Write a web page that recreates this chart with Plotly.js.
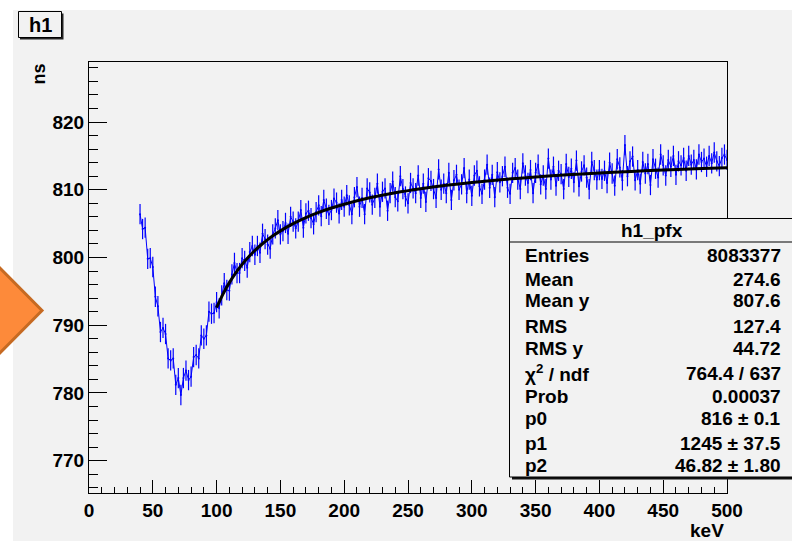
<!DOCTYPE html>
<html>
<head>
<meta charset="utf-8">
<script src="https://cdn.plot.ly/plotly-3.0.1.min.js"></script>
<style>
html,body{margin:0;padding:0;background:#ffffff;}
#plot{width:792px;height:543px;}
</style>
</head>
<body>
<div id="plot"></div>
<script>
// ---------------- data ----------------
const binStart = 40;   // keV, first filled bin shown
const binStep = 2;     // keV
const profileMean = [
 806.4,804.2,804.4,799.8,799.9,798.6,794.2,792.8,789.0,789.6,
 788.7,785.1,784.8,785.1,781.2,782.2,779.7,782.2,783.3,781.9,
 782.4,785.3,785.6,785.1,788.5,788.0,788.5,792.0,791.7,791.8,
 793.4,792.5,794.4,796.2,795.2,795.1,797.5,799.2,797.7,797.7,
 799.9,799.5,798.5,800.8,801.7,800.4,801.7,800.7,803.5,802.7,
 801.9,801.3,803.4,804.3,805.5,803.4,803.9,805.1,803.5,806.0,
 805.3,804.3,805.3,807.0,804.4,806.5,806.9,805.8,804.9,806.7,
 807.7,806.1,808.5,807.2,806.3,807.0,808.7,808.1,806.5,808.5,
 807.5,809.2,807.7,806.4,808.9,810.4,807.5,808.8,806.4,810.2,
 809.6,807.8,808.8,810.9,807.5,809.7,810.2,806.9,809.5,811.2,
 808.9,808.3,812.0,810.1,809.0,808.0,811.0,810.2,809.5,812.1,
 808.8,810.9,808.2,811.7,811.3,810.1,808.8,813.0,810.0,810.9,
 809.5,812.5,808.5,811.4,812.2,810.0,810.8,813.2,809.5,811.5,
 809.1,812.1,812.8,810.5,809.4,811.5,813.7,810.3,812.2,808.9,
 812.6,811.1,812.0,813.4,810.3,809.4,812.5,813.2,811.5,810.1,
 813.9,812.1,811.0,812.9,809.5,812.5,813.7,810.8,812.1,810.1,
 814.6,811.5,813.4,810.6,812.8,812.3,810.1,813.8,811.9,813.1,
 811.1,814.3,810.5,812.7,813.6,811.8,810.1,814.1,812.9,811.5,
 812.9,811.6,812.8,811.0,814.0,812.4,810.6,814.5,813.3,811.4,
 816.6,812.0,814.2,814.9,811.4,812.9,810.9,814.1,812.4,813.8,
 810.7,814.5,813.1,811.8,815.2,813.6,812.1,814.4,813.4,815.0,
 812.2,814.2,813.6,814.7,812.8,815.0,813.7,814.4,813.0,815.2,
 814.1,814.6,813.4,815.0,813.9,815.5,814.2,813.5,814.7,815.2,
 814.4
];
const profileErr = 1.5;

const fitX = [100,105,110,115,120,125,130,135,140,145,150,160,170,180,190,200,220,240,260,280,300,325,350,375,400,425,450,475,500];
const fitY = [792.59,794.60,796.29,797.74,798.99,800.08,801.03,801.88,802.64,803.32,803.93,805.00,805.89,806.65,807.30,807.87,808.81,809.56,810.16,810.66,811.08,811.52,811.89,812.21,812.47,812.71,812.91,813.09,813.25];

const histTitle = 'h1';
const statsTitle = 'h1_pfx';
const statLabels = ['Entries','Mean','Mean y','RMS','RMS y','χ<sup>2</sup> / ndf','Prob','p0','p1','p2'];
const statValues = ['8083377','274.6','807.6','127.4','44.72','764.4 / 637','0.00037','816 ± 0.1','1245 ± 37.5','46.82 ± 1.80'];

const xTitle = 'keV';
const yTitle = 'ns';

// ---------------- build ----------------
const profileX = profileMean.map((_, i) => binStart + i * binStep);

const L = 89, T = 62, W = 638, H = 431;
const px = v => (v - L) / W;
const py = v => (T + H - v) / H;

const FONT = 'Liberation Sans, Arial, Helvetica, sans-serif';
const GRAY = '#f2f2f2';

const traces = [
  {
    x: profileX, y: profileMean, type: 'scatter', mode: 'lines+markers',
    line: {color: '#0000ff', width: 1},
    marker: {color: '#0000ff', size: 2},
    error_y: {type: 'constant', value: profileErr, color: '#0000ff', thickness: 1.2, width: 0},
    hoverinfo: 'x+y', showlegend: false
  },
  {
    x: fitX, y: fitY, type: 'scatter', mode: 'lines',
    line: {color: '#000000', width: 3, shape: 'spline'},
    showlegend: false
  }
];

const shapes = [
  // canvas gray
  {type: 'rect', xref: 'paper', yref: 'paper', x0: px(13), x1: px(800), y0: py(10), y1: py(541),
   fillcolor: GRAY, line: {width: 0}, layer: 'below'},
  // title box shadow + box
  {type: 'rect', xref: 'paper', yref: 'paper', x0: px(20), x1: px(63.5), y0: py(13.5), y1: py(39.5),
   fillcolor: '#222222', line: {width: 0}},
  {type: 'rect', xref: 'paper', yref: 'paper', x0: px(18.5), x1: px(61.5), y0: py(11.5), y1: py(37.5),
   fillcolor: GRAY, line: {color: '#000000', width: 1}},
  // stats box shadow + box
  {type: 'rect', xref: 'paper', yref: 'paper', x0: px(512), x1: px(800), y0: py(221), y1: py(479.5),
   fillcolor: '#111111', line: {width: 0}},
  {type: 'rect', xref: 'paper', yref: 'paper', x0: px(509.5), x1: px(800), y0: py(218.5), y1: py(477),
   fillcolor: GRAY, line: {color: '#000000', width: 1}},
  {type: 'line', xref: 'paper', yref: 'paper', x0: px(509.5), x1: px(800), y0: py(242), y1: py(242),
   line: {color: '#000000', width: 1}},
  // orange arrow
  {type: 'path', xref: 'paper', yref: 'paper',
   path: `M ${px(-30)},${py(238)} L ${px(42)},${py(310.5)} L ${px(-30)},${py(383)} Z`,
   fillcolor: '#fd8a3a', line: {color: '#c66a22', width: 3}}
];

const rowY = [255, 279, 300, 326.5, 348, 373, 396.5, 418, 443, 465];
const annotations = [
  {text: '<b>' + histTitle + '</b>', xref: 'paper', yref: 'paper', x: px(40), y: py(25),
   xanchor: 'center', yanchor: 'middle', showarrow: false, font: {family: FONT, size: 20, color: '#000'}},
  {text: statsTitle, xref: 'paper', yref: 'paper', x: px(652), y: py(230),
   xanchor: 'center', yanchor: 'middle', showarrow: false, font: {family: FONT, size: 19, color: '#000', weight: 'bold'}},
  {text: yTitle, xref: 'paper', yref: 'paper', x: px(38), y: py(62), textangle: -90,
   xanchor: 'center', yanchor: 'top', showarrow: false, font: {family: FONT, size: 18, color: '#000', weight: 'bold'}},
  {text: xTitle, xref: 'paper', yref: 'paper', x: px(726), y: py(530),
   xanchor: 'right', yanchor: 'middle', showarrow: false, font: {family: FONT, size: 19, color: '#000', weight: 'bold'}}
];
statLabels.forEach((lab, i) => {
  annotations.push({text: lab, xref: 'paper', yref: 'paper', x: px(523), y: py(rowY[i]),
    xanchor: 'left', yanchor: 'middle', showarrow: false,
    font: {family: FONT, size: 19, color: '#000', weight: 'bold'}});
  annotations.push({text: statValues[i], xref: 'paper', yref: 'paper', x: px(783), y: py(rowY[i]),
    xanchor: 'right', yanchor: 'middle', showarrow: false,
    font: {family: FONT, size: 19, color: '#000', weight: 'bold'}});
});

const layout = {
  width: 792, height: 543,
  margin: {l: L, r: 792 - L - W, t: T, b: 543 - T - H, pad: 0},
  paper_bgcolor: '#ffffff', plot_bgcolor: 'rgba(0,0,0,0)',
  showlegend: false,
  xaxis: {
    range: [0, 500], dtick: 50, tick0: 0, ticks: 'inside', ticklen: 13, tickwidth: 1, tickcolor: '#000',
    showline: true, mirror: true, linecolor: '#000', linewidth: 1, showgrid: false, zeroline: false,
    tickfont: {family: FONT, size: 19, color: '#000', weight: 'bold'},
    minor: {dtick: 10, ticks: 'inside', ticklen: 6, tickcolor: '#000', tickwidth: 1, showgrid: false},
    fixedrange: true
  },
  yaxis: {
    range: [765.23, 828.86], dtick: 10, tick0: 770, ticks: 'inside', ticklen: 18, tickwidth: 1, tickcolor: '#000',
    showline: true, mirror: true, linecolor: '#000', linewidth: 1, showgrid: false, zeroline: false,
    tickfont: {family: FONT, size: 19, color: '#000', weight: 'bold'},
    minor: {dtick: 2, ticks: 'inside', ticklen: 9, tickcolor: '#000', tickwidth: 1, showgrid: false},
    fixedrange: true
  },
  shapes: shapes,
  annotations: annotations
};

Plotly.newPlot('plot', traces, layout, {displayModeBar: false, staticPlot: true});
</script>
</body>
</html>
